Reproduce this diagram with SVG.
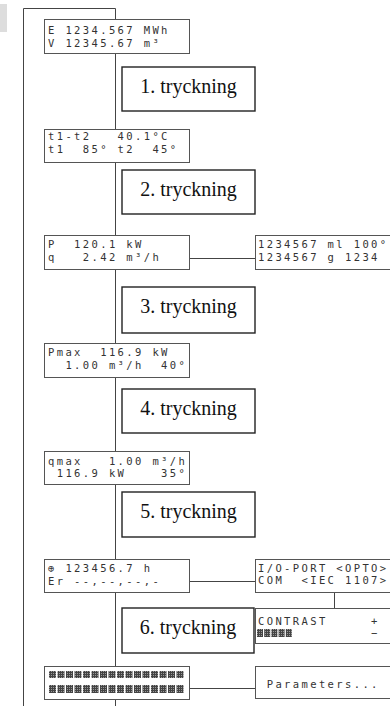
<svg xmlns="http://www.w3.org/2000/svg" width="390" height="706" viewBox="0 0 390 706">
<style>
.lcd{fill:#fff;stroke:#555;stroke-width:1}
.btn{fill:#fff;stroke:#222;stroke-width:1.4}
.t{font-family:"DejaVu Sans Mono",monospace;font-size:10.5px;letter-spacing:2.38px;fill:#333}
.b{font-family:"Liberation Serif",serif;font-size:20px;fill:#111;text-anchor:middle}
.c{stroke:#444;stroke-width:1;fill:none}
.blk{fill:url(#dots)}
</style>
<defs>
<pattern id="dots" width="2" height="2" patternUnits="userSpaceOnUse">
<rect width="2" height="2" fill="#444"/>
<rect x="1" y="1" width="1" height="1" fill="#999"/>
</pattern>
</defs>
<rect x="0" y="4" width="7" height="28" fill="#ddd"/>
<g id="connectors">
<path class="c" d="M23.5,706 V8.5 H115.5 V706"/>
<path class="c" d="M189,258.5 H255"/>
<path class="c" d="M189,581.5 H255"/>
<path class="c" d="M189,688.5 H255"/>
<path class="c" d="M334.5,592 V608"/>
</g>
<g id="d1"><rect class="lcd" x="44.5" y="19.5" width="145" height="34"/>
<text class="t" xml:space="preserve" x="48" y="34">E 1234.567 MWh</text>
<text class="t" xml:space="preserve" x="48" y="46.6">V 12345.67 m³</text></g>
<g id="b1"><rect class="btn" x="122" y="67" width="133" height="44"/><text class="b" x="188.5" y="93">1. tryckning</text></g>
<g id="d2"><rect class="lcd" x="44.5" y="129.5" width="145" height="33"/>
<text class="t" xml:space="preserve" x="48" y="140">t1-t2   40.1°C</text>
<text class="t" xml:space="preserve" x="48" y="152.6">t1  85° t2  45°</text></g>
<g id="b2"><rect class="btn" x="122" y="170" width="133" height="44"/><text class="b" x="188.5" y="196">2. tryckning</text></g>
<g id="d3"><rect class="lcd" x="44.5" y="235.5" width="145" height="34"/>
<text class="t" xml:space="preserve" x="48" y="248">P  120.1 kW</text>
<text class="t" xml:space="preserve" x="48" y="260.6">q   2.42 m³/h</text></g>
<g id="r3"><rect class="lcd" x="255.5" y="235.5" width="145" height="34"/>
<text class="t" xml:space="preserve" x="258" y="248">1234567 ml 100°</text>
<text class="t" xml:space="preserve" x="258" y="260.6">1234567 g 1234</text></g>
<g id="b3"><rect class="btn" x="122" y="287" width="133" height="46"/><text class="b" x="188.5" y="313">3. tryckning</text></g>
<g id="d4"><rect class="lcd" x="44.5" y="343.5" width="145" height="34"/>
<text class="t" xml:space="preserve" x="48" y="356">Pmax  116.9 kW</text>
<text class="t" xml:space="preserve" x="48" y="368.6">  1.00 m³/h  40°</text></g>
<g id="b4"><rect class="btn" x="122" y="389" width="133" height="44"/><text class="b" x="188.5" y="415">4. tryckning</text></g>
<g id="d5"><rect class="lcd" x="44.5" y="451.5" width="145" height="33"/>
<text class="t" xml:space="preserve" x="48" y="464.5">qmax   1.00 m³/h</text>
<text class="t" xml:space="preserve" x="48" y="477.1"> 116.9 kW    35°</text></g>
<g id="b5"><rect class="btn" x="122" y="492" width="133" height="45"/><text class="b" x="188.5" y="518">5. tryckning</text></g>
<g id="d6"><rect class="lcd" x="44.5" y="559.5" width="145" height="33"/>
<text class="t" xml:space="preserve" x="48" y="572">⊕ 123456.7 h</text>
<text class="t" xml:space="preserve" x="48" y="584.6">Er --,--,--,-</text></g>
<g id="r6"><rect class="lcd" x="255.5" y="559.5" width="145" height="33"/>
<text class="t" xml:space="preserve" x="258" y="571.5">I/O-PORT &lt;OPTO&gt;</text>
<text class="t" xml:space="preserve" x="258" y="584.1">COM  &lt;IEC 1107&gt;</text></g>
<g id="b6"><rect class="btn" x="122" y="608" width="132" height="45"/><text class="b" x="188" y="634">6. tryckning</text></g>
<g id="rc"><rect class="lcd" x="255.5" y="608.5" width="145" height="35"/>
<text class="t" xml:space="preserve" x="258" y="624.5">CONTRAST     +</text>
<text class="t" xml:space="preserve" x="258" y="637.1">             −</text>
<g class="blk"><rect x="257" y="629" width="6" height="8"/><rect x="264.2" y="629" width="6" height="8"/><rect x="271.4" y="629" width="6" height="8"/><rect x="278.6" y="629" width="6" height="8"/><rect x="285.8" y="629" width="6" height="8"/></g></g>
<g id="d7"><rect class="lcd" x="44.5" y="666.5" width="145" height="33"/>
<g class="blk">
<rect x="49" y="671" width="7" height="7"/><rect x="57.5" y="671" width="7" height="7"/><rect x="66" y="671" width="7" height="7"/><rect x="74.5" y="671" width="7" height="7"/><rect x="83" y="671" width="7" height="7"/><rect x="91.5" y="671" width="7" height="7"/><rect x="100" y="671" width="7" height="7"/><rect x="108.5" y="671" width="7" height="7"/><rect x="117" y="671" width="7" height="7"/><rect x="125.5" y="671" width="7" height="7"/><rect x="134" y="671" width="7" height="7"/><rect x="142.5" y="671" width="7" height="7"/><rect x="151" y="671" width="7" height="7"/><rect x="159.5" y="671" width="7" height="7"/><rect x="168" y="671" width="7" height="7"/><rect x="176.5" y="671" width="7" height="7"/>
<rect x="49" y="685" width="7" height="8"/><rect x="57.5" y="685" width="7" height="8"/><rect x="66" y="685" width="7" height="8"/><rect x="74.5" y="685" width="7" height="8"/><rect x="83" y="685" width="7" height="8"/><rect x="91.5" y="685" width="7" height="8"/><rect x="100" y="685" width="7" height="8"/><rect x="108.5" y="685" width="7" height="8"/><rect x="117" y="685" width="7" height="8"/><rect x="125.5" y="685" width="7" height="8"/><rect x="134" y="685" width="7" height="8"/><rect x="142.5" y="685" width="7" height="8"/><rect x="151" y="685" width="7" height="8"/><rect x="159.5" y="685" width="7" height="8"/><rect x="168" y="685" width="7" height="8"/><rect x="176.5" y="685" width="7" height="8"/>
</g></g>
<g id="r7"><rect class="lcd" x="255.5" y="666.5" width="145" height="32"/>
<text class="t" xml:space="preserve" x="258" y="688"> Parameters...</text></g>
</svg>
